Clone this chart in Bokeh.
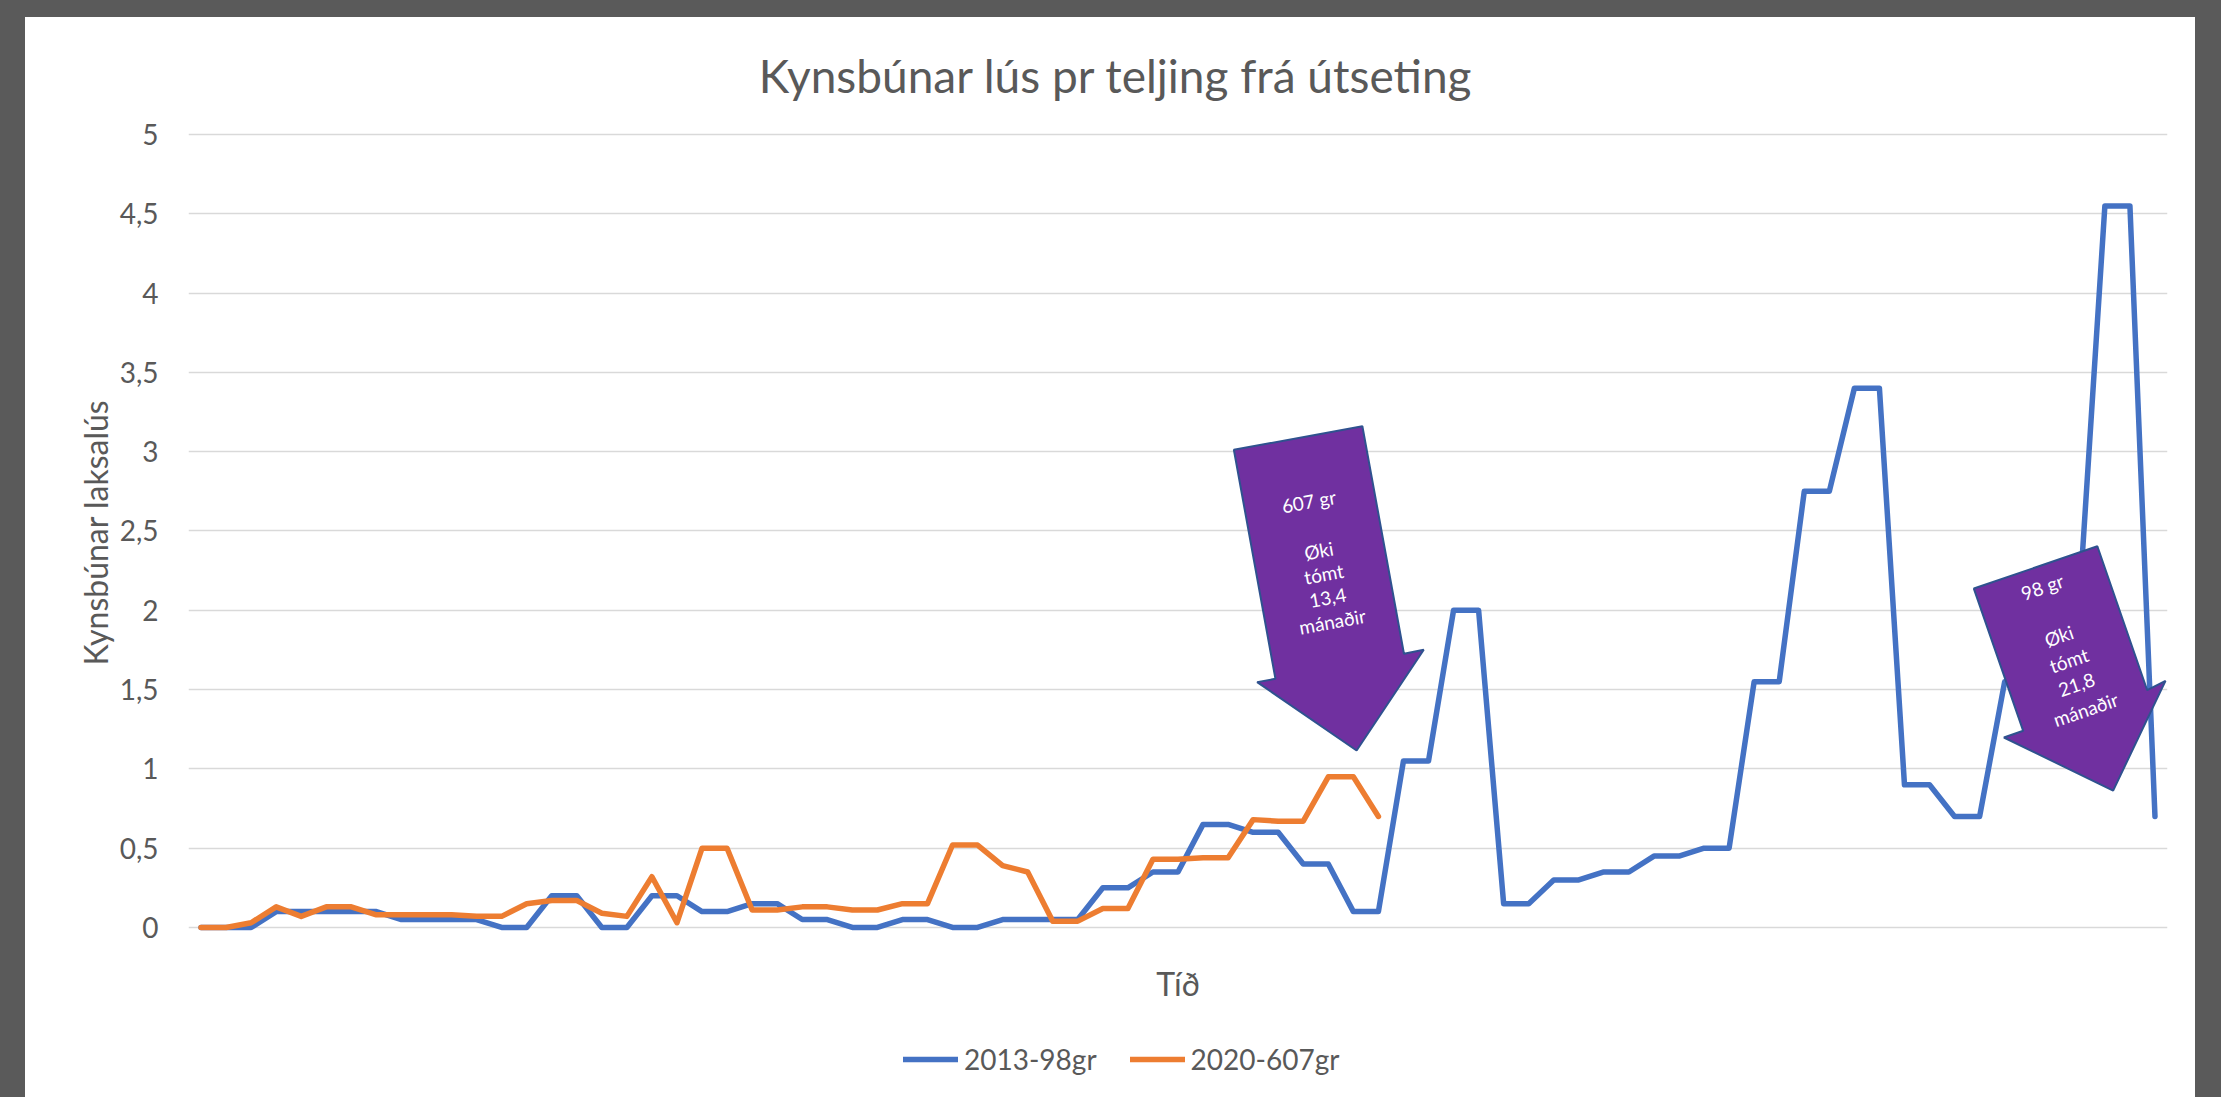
from bokeh.plotting import figure
from bokeh.models import (Range1d, FixedTicker, CustomJSTickFormatter, Legend,
                          LegendItem, ColumnDataSource, Label, Title)
from bokeh.layouts import column
from bokeh.core.properties import value
from bokeh.embed import file_html
from bokeh.resources import INLINE

# ---------------- data ----------------
chart_title = "Kynsbúnar lús pr teljing frá útseting"
y_title = "Kynsbúnar laksalús"
x_title = "Tíð"
series_names = ["2013-98gr", "2020-607gr"]
y_ticks = [0, 0.5, 1, 1.5, 2, 2.5, 3, 3.5, 4, 4.5, 5]

blue_values = [0, 0, 0, 0.1, 0.1, 0.1, 0.1, 0.1, 0.05, 0.05,
               0.05, 0.05, 0, 0, 0.2, 0.2, 0, 0, 0.2, 0.2,
               0.1, 0.1, 0.15, 0.15, 0.05, 0.05, 0, 0, 0.05, 0.05,
               0, 0, 0.05, 0.05, 0.05, 0.05, 0.25, 0.25, 0.35, 0.35,
               0.65, 0.65, 0.6, 0.6, 0.4, 0.4, 0.1, 0.1, 1.05, 1.05,
               2.0, 2.0, 0.15, 0.15, 0.3, 0.3, 0.35, 0.35, 0.45, 0.45,
               0.5, 0.5, 1.55, 1.55, 2.75, 2.75, 3.4, 3.4, 0.9, 0.9,
               0.7, 0.7, 1.55, 1.55, 2.1, 2.1, 4.55, 4.55, 0.7]

orange_values = [0, 0, 0.03, 0.13, 0.07, 0.13, 0.13, 0.08, 0.08, 0.08,
                 0.08, 0.07, 0.07, 0.15, 0.17, 0.17, 0.09, 0.07, 0.32, 0.03,
                 0.5, 0.5, 0.11, 0.11, 0.13, 0.13, 0.11, 0.11, 0.15, 0.15,
                 0.52, 0.52, 0.39, 0.35, 0.04, 0.04, 0.12, 0.12, 0.43, 0.43,
                 0.44, 0.44, 0.68, 0.67, 0.67, 0.95, 0.95, 0.7]

n_categories = len(blue_values)

# annotation arrows (category index / value units)
arrow1_x = [41.23, 46.36, 48.02, 48.81, 46.13, 42.16, 42.89]
arrow1_y = [3.012, 3.161, 1.726, 1.751, 1.116, 1.547, 1.568]
arrow1_text = ["607 gr", "Øki", "tómt", "13,4", "mánaðir"]
arrow1_tx = [44.22, 44.62, 44.82, 44.98, 45.16]
arrow1_ty = [2.688, 2.377, 2.230, 2.079, 1.931]

arrow2_x = [70.77, 75.70, 77.69, 78.42, 76.33, 71.97, 72.74]
arrow2_y = [2.137, 2.404, 1.496, 1.555, 0.863, 1.198, 1.240]
arrow2_text = ["98 gr", "Øki", "tómt", "21,8", "mánaðir"]
arrow2_tx = [73.50, 74.16, 74.56, 74.87, 75.23]
arrow2_ty = [2.148, 1.839, 1.685, 1.531, 1.376]

# ---------------- styles ----------------
FONT = "Lato"
GREY = "#595959"
BLUE = "#4472C4"
ORANGE = "#ED7D31"
PURPLE = "#7030A0"
OUTLINE = "#2F528F"

src_blue = ColumnDataSource(dict(x=list(range(len(blue_values))), y=blue_values))
src_orange = ColumnDataSource(dict(x=list(range(len(orange_values))), y=orange_values))

# the frame spans the whole white card (title, axis title and legend live inside it)
p = figure(width=2170, height=1080, title=None,
           x_range=Range1d(-0.5, n_categories - 0.5),
           y_range=Range1d(-1.028, 5.719),
           output_backend="svg", toolbar_location=None,
           outline_line_color=None, border_line_color=None,
           min_border_left=163, min_border_right=28,
           min_border_top=3, min_border_bottom=7)
p.margin = (17, 26, 0, 25)
p.styles = {"background-color": "white"}
p.background_fill_color = "white"
p.border_fill_color = "white"

# chart title
p.add_layout(Label(x=36.53, y=5.374, text=chart_title,
                   text_align="center", text_baseline="alphabetic",
                   text_font=FONT, text_font_size="46px", text_color=GREY))

# y axis
p.yaxis.ticker = FixedTicker(ticks=y_ticks)
p.yaxis.formatter = CustomJSTickFormatter(code="return String(tick).replace('.', ',');")
p.yaxis.axis_line_color = None
p.yaxis.major_tick_line_color = None
p.yaxis.minor_tick_line_color = None
p.yaxis.major_tick_out = 0
p.yaxis.major_tick_in = 0
p.yaxis.major_label_standoff = 30
p.yaxis.major_label_text_font = FONT
p.yaxis.major_label_text_font_size = "28px"
p.yaxis.major_label_text_color = GREY

y_label = Title(text=y_title, align="left", offset=425, standoff=4,
                text_font=FONT, text_font_size="32px", text_font_style="normal",
                text_color=GREY)
p.add_layout(y_label, "left")

# x axis (hidden, only its title is shown below the zero line)
p.xaxis.visible = False
p.xgrid.visible = False
p.ygrid.grid_line_color = "#D9D9D9"
p.ygrid.grid_line_width = 1.5

p.add_layout(Label(x=(n_categories - 1) / 2, y=-0.353, text=x_title,
                   text_align="center", text_baseline="alphabetic",
                   text_font=FONT, text_font_size="32px", text_color=GREY))

r_blue = p.line("x", "y", source=src_blue, line_color=BLUE, line_width=5.5,
                line_join="round", line_cap="round")
r_orange = p.line("x", "y", source=src_orange, line_color=ORANGE, line_width=5.5,
                  line_join="round", line_cap="round")

# arrows
for ax, ay, tx, ty, txt, ang in [
    (arrow1_x, arrow1_y, arrow1_tx, arrow1_ty, arrow1_text, 0.18),
    (arrow2_x, arrow2_y, arrow2_tx, arrow2_ty, arrow2_text, 0.33),
]:
    p.patch(ax, ay, fill_color=PURPLE, line_color=OUTLINE, line_width=2)
    p.text(x=tx, y=ty, text=txt, angle=ang, text_align="center",
           text_baseline="middle", text_color="white",
           text_font=value(FONT), text_font_size="19px")

legend = Legend(items=[LegendItem(label=series_names[0], renderers=[r_blue]),
                       LegendItem(label=series_names[1], renderers=[r_orange])],
                orientation="horizontal", location=(715, 14))
legend.label_text_font = FONT
legend.label_text_font_size = "28px"
legend.label_text_color = GREY
legend.glyph_width = 55
legend.glyph_height = 30
legend.label_standoff = 6
legend.spacing = 33
legend.padding = 0
legend.margin = 0
legend.border_line_color = None
legend.background_fill_alpha = 0
p.add_layout(legend)

layout = column(p, styles={"background-color": "#5a5a5a"})

open("out.html", "w").write(file_html(layout, INLINE))
